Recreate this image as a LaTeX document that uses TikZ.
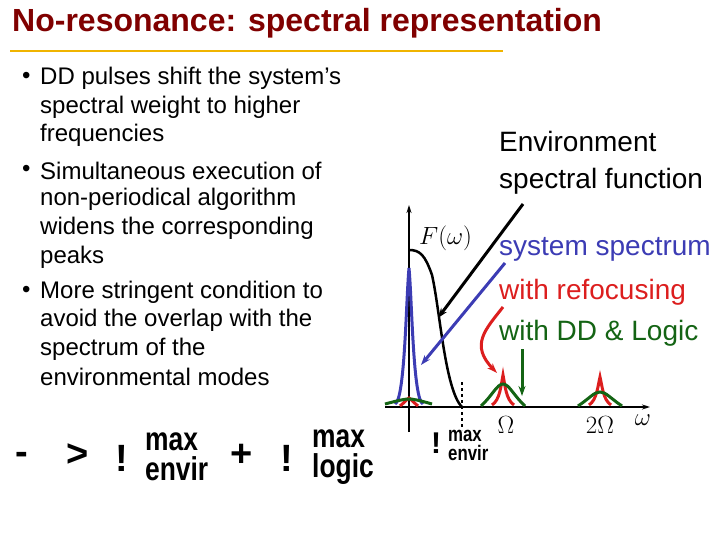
\documentclass[tikz,border=0pt]{standalone}
\usepackage{fontspec}
\setmainfont{Liberation Sans}
\usetikzlibrary{arrows.meta}
\definecolor{ttl}{RGB}{128,0,0}
\definecolor{bl}{RGB}{60,60,180}
\definecolor{rd}{RGB}{220,30,30}
\definecolor{gr}{RGB}{20,100,20}
\definecolor{orl}{RGB}{240,180,0}
\begin{document}
\begin{tikzpicture}[x=1pt,y=-1pt,
  body/.style={anchor=west,font=\fontsize{24}{24}\selectfont,inner sep=0},
  big/.style={anchor=west,font=\fontsize{28}{28}\selectfont,inner sep=0},
  arr/.style={-{Stealth[length=10pt,width=7pt]},line width=3pt},
  mx/.style={font=\fontsize{33}{30}\selectfont\bfseries,align=left,inner sep=0,anchor=west,xscale=0.8,transform shape}]
\useasboundingbox (0,0) rectangle (720,540);
\node[anchor=west,font=\fontsize{32}{32}\selectfont\bfseries,text=ttl,inner sep=0] (title) at (12,23) {No-resonance: spectral representation};
\draw[orl,line width=2.5pt] (10,51) -- (503,51);
\foreach \y/\t/\b in {78/DD pulses shift the system’s/1,107/spectral weight to higher/0,135/frequencies/0,171/Simultaneous execution of/1,199/non-periodical algorithm/0,228/widens the corresponding/0,257/peaks/0,292/More stringent condition to/1,320/avoid the overlap with the/0,349/spectrum of the/0,377/environmental modes/0}{
  \ifnum\b=1 \node[body] at (22,\y) {•};\fi
  \node[body] at (40,\y) {\t};}
\node[big] (env1) at (499,141) {Environment};
\node[big] (env2) at (499,181) {spectral function};
\node[big,text=bl] (sys) at (499,249) {system spectrum};
\node[big,text=rd] (ref) at (499,292) {with refocusing};
\node[big,text=gr] (dd) at (499,333) {with DD \& Logic};
\node[font=\fontsize{24}{24}\selectfont,anchor=west,inner sep=0] (F) at (419,238) {$F(\mathrm{\omega})$};
% formula
\begin{scope}[font=\fontsize{38}{38}\selectfont\bfseries]
\node (m) at (22,458) {-};
\node (gt) at (78,455) {>};
\node (e1) at (122,458) {!};
\node (pl) at (242,455) {+};
\node (e2) at (287,458) {!};
\end{scope}
\node[mx] (me) at (145,457) {max\\envir};
\node[mx] (ml) at (312,457) {max\\logic};
% axes
\draw[-{Stealth[length=8pt,width=5pt]},line width=1.5pt] (409,432) -- (409,205);
\draw[-{Stealth[length=8pt,width=5pt]},line width=1.5pt] (385,407) -- (650,407);
\draw[dashed,line width=2pt] (462,382) -- (462,430);
\node[font=\fontsize{26}{26}\selectfont,inner sep=0] (om) at (506,425) {$\Omega$};
\node[font=\fontsize{26}{26}\selectfont,inner sep=0] (om2) at (600,425) {$2\Omega$};
\node[font=\fontsize{26}{26}\selectfont,inner sep=0] (w) at (643,420) {$\omega$};
\node[font=\fontsize{30}{30}\selectfont\bfseries,inner sep=0] (e3) at (436,443) {!};
\node[font=\fontsize{21}{19}\selectfont\bfseries,align=left,inner sep=0,anchor=west,xscale=0.8,transform shape] (me2) at (448,445) {max\\envir};
% black F
\draw[line width=2.5pt] (409,250) .. controls (420,250) and (425,255) .. (432,275) .. controls (440,310) and (445,390) .. (462,407);
% blue peak
\draw[bl,line width=3pt] (395,404) .. controls (405,400) and (406,300) .. (409,268) .. controls (412,300) and (413,400) .. (423,404);
% small peaks at 0
\draw[rd,line width=3pt] (400,406) .. controls (405,402) and (407,399) .. (409,398) .. controls (411,399) and (413,402) .. (418,406);
\draw[gr,line width=3pt] (385,404) .. controls (400,400) and (405,399) .. (409,399) .. controls (413,399) and (418,400) .. (432,404);
% peaks at Omega
\draw[rd,line width=3pt] (492,405) .. controls (500,400) and (501,385) .. (503,375) .. controls (505,385) and (506,400) .. (514,405);
\draw[gr,line width=3pt] (481,406) .. controls (492,396) and (497,384) .. (503,384) .. controls (509,384) and (514,396) .. (525,406);
\draw[rd,line width=3pt] (589,405) .. controls (597,400) and (598,385) .. (600,377) .. controls (602,385) and (603,400) .. (611,405);
\draw[gr,line width=3pt] (578,406) .. controls (590,398) and (594,392) .. (600,392) .. controls (606,392) and (610,398) .. (622,406);
% arrows
\draw[arr] (523,204) -- (438,318);
\draw[arr,bl] (505,263) -- (421,365);
\draw[arr,rd] (503,307) .. controls (485,330) and (470,345) .. (497,373);
\draw[arr,gr] (522,349) -- (522,396);
\end{tikzpicture}
\end{document}
